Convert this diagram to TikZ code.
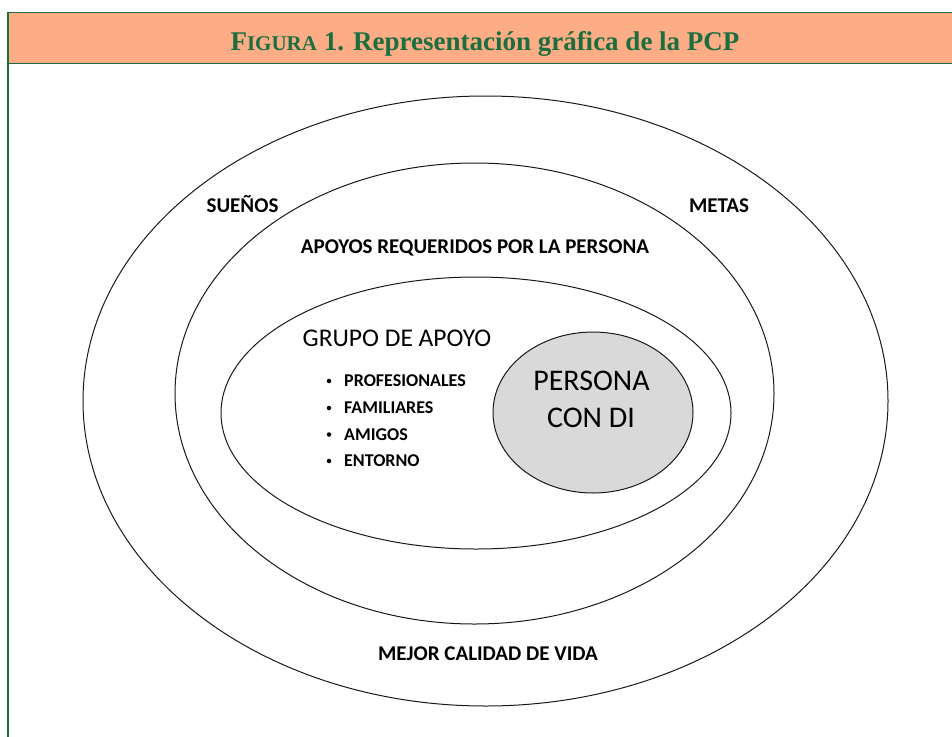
\documentclass[tikz,border=0pt]{standalone}
\usepackage{fontspec}
\usetikzlibrary{shapes.geometric}
\newfontfamily\calf{Carlito}
\newfontfamily\titlef{Liberation Serif}
\definecolor{framegreen}{HTML}{1B6E3E}
\definecolor{headfill}{HTML}{FCAD86}
\definecolor{innerfill}{HTML}{D9D9D9}
\begin{document}
\begin{tikzpicture}[x=1pt,y=-1pt,
  ring/.style={draw=black!90, line width=1pt, ellipse, inner sep=0pt},
  lab/.style={font=\calf\bfseries\fontsize{21}{21}\selectfont, inner sep=0pt, anchor=base},
  item/.style={font=\calf\bfseries\fontsize{18}{18}\selectfont, inner sep=0pt, anchor=base west},
  big/.style={font=\calf\fontsize{25.5}{25.5}\selectfont, inner sep=0pt, anchor=base},
  dot/.style={circle, fill=black, inner sep=0pt, minimum size=4.5pt}]
\useasboundingbox (0,0) rectangle (952,736);
% frame and header
\fill[headfill] (8,12.3) rectangle (980,63);
\draw[framegreen, line width=1.3pt] (8,760) -- (8,12.3) -- (980,12.3);
\draw[framegreen, line width=0.8pt] (8,63) -- (980,63);
\node[inner sep=0pt, anchor=base, text=framegreen, font=\titlef\bfseries] (title) at (485,50)
  {{\fontsize{27}{27}\selectfont F}{\fontsize{21}{21}\selectfont IGURA}{\fontsize{27}{27}\selectfont\ 1. Representación gráfica de la PCP}};
% rings
\node[ring, minimum width=805pt, minimum height=610pt] (outer) at (485.5,401) {};
\node[ring, minimum width=599pt, minimum height=461pt] (middle) at (474.5,393.5) {};
\node[ring, minimum width=510pt, minimum height=272pt] (inner) at (476,413) {};
\node[ring, fill=innerfill, minimum width=200pt, minimum height=161pt] (core) at (593,412.5) {};
% labels
\node[lab] (suenos) at (242.5,212) {SUEÑOS};
\node[lab] (metas) at (719,212) {METAS};
\node[lab] (apoyos) at (475,253) {APOYOS REQUERIDOS POR LA PERSONA};
\node[big] (grupo) at (397,346) {GRUPO DE APOYO};
\node[dot] (b1) at (329,381) {};
\node[dot] (b2) at (329,408) {};
\node[dot] (b3) at (329,434.5) {};
\node[dot] (b4) at (329,461) {};
\node[item] (i1) at (344,386.7) {PROFESIONALES};
\node[item] (i2) at (344,413.4) {FAMILIARES};
\node[item] (i3) at (344,440) {AMIGOS};
\node[item] (i4) at (344,466.7) {ENTORNO};
\node[big, font=\calf\fontsize{30}{30}\selectfont] (p1) at (591.5,390.7) {PERSONA};
\node[big, font=\calf\fontsize{30}{30}\selectfont] (p2) at (591,427) {CON DI};
\node[lab] (mejor) at (488,660) {MEJOR CALIDAD DE VIDA};
\end{tikzpicture}
\end{document}
